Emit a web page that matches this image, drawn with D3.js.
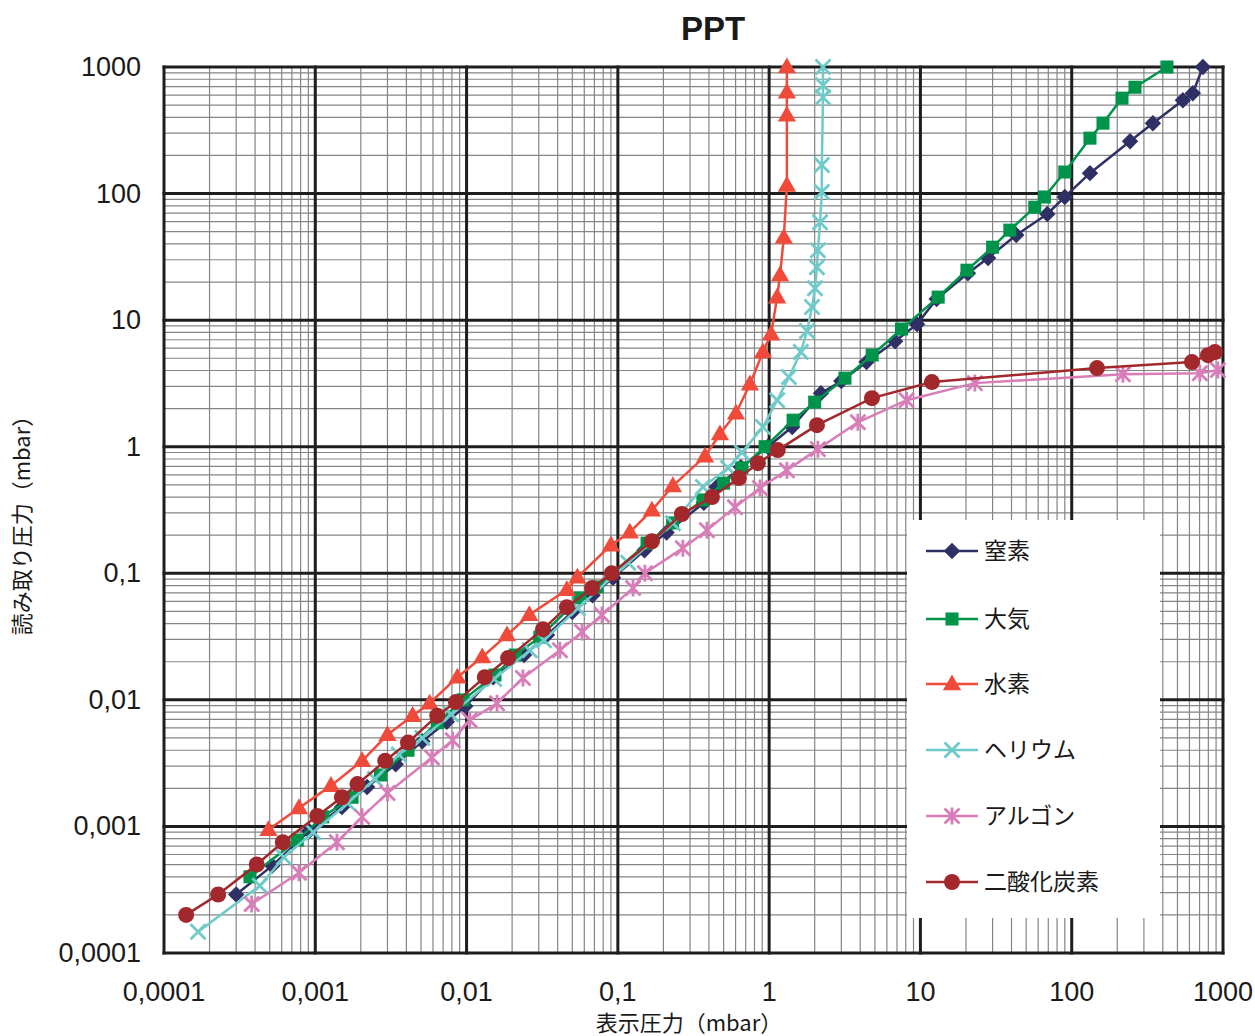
<!DOCTYPE html>
<html>
<head>
<meta charset="utf-8">
<script src="https://cdn.jsdelivr.net/npm/d3@7"></script>
<style>
  body { margin: 0; background: #fff; }
  svg { display: block; }
  .tick-label { font-family: "Liberation Sans", Arial, sans-serif; font-size: 27px; fill: #1a1a1a; }
  .cjk { font-family: "Noto Sans CJK JP", "Noto Sans", sans-serif; fill: #1a1a1a; }
</style>
</head>
<body>
<svg id="chart" width="1255" height="1036"></svg>
<script>
// data (x = 表示圧力, y = 読み取り圧力, both mbar)
var n2X = [0.0003,0.00052,0.00091,0.0015,0.0022,0.0034,0.0051,0.0074,0.0098,0.015,0.024,0.034,0.050,0.068,0.093,0.15,0.21,0.37,0.45,0.65,0.98,1.42,2.2,3.0,4.4,6.8,9.5,12.8,20.6,28,43,69,90,132,243,344,543,632,736];
var n2Y = [0.00029,0.00049,0.00092,0.00142,0.00205,0.0031,0.0047,0.0067,0.0089,0.0151,0.0226,0.0325,0.0495,0.067,0.092,0.152,0.21,0.36,0.48,0.69,1.0,1.43,2.65,3.3,4.66,6.8,9.3,14.7,23.5,31,47,69,94,145,259,360,547,621,1000];

var airX = [0.00037,0.00076,0.00112,0.00175,0.0027,0.0041,0.0064,0.0095,0.0154,0.021,0.0305,0.056,0.073,0.156,0.23,0.365,0.5,0.66,0.94,1.44,2.0,3.17,4.8,7.5,13.1,20.3,30,39,57,66,90,132,161,215,262,426];
var airY = [0.0004,0.00078,0.00119,0.0017,0.00255,0.004,0.0066,0.01,0.0157,0.0226,0.0313,0.064,0.078,0.173,0.25,0.38,0.515,0.68,1.0,1.62,2.25,3.48,5.3,8.5,15.2,24.8,37.7,51.4,78,94,148,274,360,567,692,1000];

var h2X = [0.00049,0.00078,0.00127,0.00204,0.0030,0.0044,0.0057,0.0087,0.0127,0.0185,0.026,0.046,0.054,0.090,0.120,0.168,0.231,0.377,0.473,0.604,0.746,0.91,1.03,1.13,1.18,1.25,1.31,1.31,1.31,1.31];
var h2Y = [0.00094,0.0014,0.0021,0.0033,0.0053,0.0075,0.0094,0.0151,0.0218,0.0325,0.047,0.074,0.093,0.167,0.211,0.315,0.49,0.84,1.26,1.84,3.12,5.6,7.75,15.2,22.7,45,116,416,632,1000];

var heX = [0.000168,0.00043,0.00062,0.00097,0.00164,0.00248,0.00357,0.0051,0.0079,0.0152,0.0262,0.0325,0.0545,0.117,0.231,0.365,0.535,0.66,0.91,1.13,1.35,1.62,1.78,1.92,2.01,2.07,2.10,2.17,2.23,2.23,2.27,2.27,2.27];
var heY = [0.000147,0.00034,0.00057,0.0009,0.00153,0.00237,0.0037,0.005,0.0077,0.0146,0.0247,0.0296,0.053,0.121,0.249,0.48,0.68,0.9,1.43,2.33,3.55,5.6,8.2,12.7,17.9,26.2,35.7,59.4,103,168,577,718,1000];

var arX = [0.00038,0.00078,0.00139,0.00204,0.0030,0.0059,0.0081,0.0105,0.0159,0.0236,0.0414,0.058,0.0785,0.126,0.151,0.269,0.388,0.594,0.87,1.31,2.10,3.86,8.1,22.9,218,703,925];
var arY = [0.000244,0.00043,0.00075,0.00119,0.00184,0.0035,0.0048,0.0069,0.0094,0.0149,0.0247,0.0344,0.0468,0.0764,0.1,0.158,0.219,0.333,0.471,0.653,0.957,1.56,2.33,3.18,3.74,3.81,4.03];

var co2X = [0.00014,0.000228,0.00041,0.00061,0.00103,0.0015,0.0019,0.0029,0.0041,0.0064,0.0085,0.0132,0.0188,0.032,0.046,0.0675,0.091,0.168,0.265,0.419,0.631,0.843,1.14,2.07,4.78,11.9,147,623,795,884];
var co2Y = [0.0002,0.00029,0.0005,0.00075,0.00121,0.0017,0.00216,0.0033,0.0046,0.0075,0.0096,0.0151,0.0214,0.0362,0.054,0.0764,0.1,0.179,0.294,0.4,0.565,0.741,0.94,1.48,2.42,3.24,4.18,4.66,5.29,5.59];

var seriesNames = ['窒素','大気','水素','ヘリウム','アルゴン','二酸化炭素'];
var seriesColors = ['#2e3066','#00944a','#f04b3a','#6fcaca','#d97db8','#a3282c'];
var seriesMarkers = ['diamond','square','triangle','x','star','circle'];
var seriesX = [n2X, airX, h2X, heX, arX, co2X];
var seriesY = [n2Y, airY, h2Y, heY, arY, co2Y];

var tickVals = [0.0001,0.001,0.01,0.1,1,10,100,1000];
var tickText = ['0,0001','0,001','0,01','0,1','1','10','100','1000'];

var svg = d3.select('#chart');

var x = d3.scaleLog().domain([0.0001, 1000]).range([164, 1223]);
var y = d3.scaleLog().domain([0.0001, 1000]).range([953, 67]);

// minor grid
var minor = [];
for (var k = -4; k < 3; k++) {
  for (var m = 2; m < 10; m++) minor.push(m * Math.pow(10, k));
}
var grid = svg.append('g').attr('class','grid');
grid.selectAll('.vminor').data(minor).enter().append('line')
  .attr('x1', function(d){ return x(d); }).attr('x2', function(d){ return x(d); })
  .attr('y1', y(0.0001)).attr('y2', y(1000))
  .style('stroke','#858585').style('stroke-width',1.2);
grid.selectAll('.hminor').data(minor).enter().append('line')
  .attr('y1', function(d){ return y(d); }).attr('y2', function(d){ return y(d); })
  .attr('x1', x(0.0001)).attr('x2', x(1000))
  .style('stroke','#858585').style('stroke-width',1.2);

// major grid
grid.selectAll('.vmajor').data(tickVals).enter().append('line')
  .attr('x1', function(d){ return x(d); }).attr('x2', function(d){ return x(d); })
  .attr('y1', y(0.0001) + 1.5).attr('y2', y(1000) - 1.5)
  .style('stroke','#1e1e1e').style('stroke-width',3);
grid.selectAll('.hmajor').data(tickVals).enter().append('line')
  .attr('y1', function(d){ return y(d); }).attr('y2', function(d){ return y(d); })
  .attr('x1', x(0.0001) - 1.5).attr('x2', x(1000) + 1.5)
  .style('stroke','#1e1e1e').style('stroke-width',3);

// legend box sits over the grid
svg.append('rect')
  .attr('x', 907).attr('y', 520).attr('width', 253).attr('height', 398)
  .style('fill','#fff');

// tick labels
svg.selectAll('.xlab').data(tickVals).enter().append('text')
  .attr('class','tick-label')
  .attr('x', function(d){ return x(d); })
  .attr('y', 1001)
  .attr('text-anchor','middle')
  .text(function(d,i){ return tickText[i]; });
svg.selectAll('.ylab').data(tickVals).enter().append('text')
  .attr('class','tick-label')
  .attr('x', 141)
  .attr('y', function(d){ return y(d) + 9; })
  .attr('text-anchor','end')
  .text(function(d,i){ return tickText[i]; });

// titles
svg.append('text')
  .attr('x', 713).attr('y', 40)
  .attr('text-anchor','middle')
  .style('font-family','"Liberation Sans", Arial, sans-serif')
  .style('font-size','33px').style('font-weight','bold').style('fill','#1a1a1a')
  .text('PPT');
svg.append('text')
  .attr('class','cjk')
  .attr('x', 689).attr('y', 1031)
  .attr('text-anchor','middle')
  .style('font-size','22px')
  .text('表示圧力（mbar）');
svg.append('text')
  .attr('class','cjk')
  .attr('transform','translate(30,520) rotate(-90)')
  .attr('text-anchor','middle')
  .style('font-size','22px')
  .text('読み取り圧力（mbar）');

function drawMarker(g, type, color) {
  if (type == 'diamond') {
    g.append('path').attr('d', d3.symbol().type(d3.symbolSquare).size(135)())
      .attr('transform','rotate(45)').style('fill', color);
  } else if (type == 'square') {
    g.append('path').attr('d', d3.symbol().type(d3.symbolSquare).size(170)()).style('fill', color);
  } else if (type == 'triangle') {
    g.append('path').attr('d', d3.symbol().type(d3.symbolTriangle).size(145)())
      .attr('transform','translate(0,1)').style('fill', color);
  } else if (type == 'circle') {
    g.append('circle').attr('r', 8).style('fill', color);
  } else {
    var s = 7.5;
    var p = 'M' + (-s) + ',' + (-s) + 'L' + s + ',' + s + 'M' + (-s) + ',' + s + 'L' + s + ',' + (-s);
    if (type == 'star') p += 'M0,' + (-s - 1) + 'L0,' + (s + 1);
    g.append('path').attr('d', p)
      .style('fill','none').style('stroke', color).style('stroke-width', 2.8);
  }
}

var line = d3.line()
  .x(function(d){ return x(d[0]); })
  .y(function(d){ return y(d[1]); });

seriesNames.forEach(function(name, i) {
  var pts = seriesX[i].map(function(v, j){ return [v, seriesY[i][j]]; });
  var g = svg.append('g').attr('class','series');
  g.append('path').datum(pts)
    .attr('d', line)
    .style('fill','none')
    .style('stroke', seriesColors[i])
    .style('stroke-width', 2.5);
  g.selectAll('.pt').data(pts).enter().append('g')
    .attr('transform', function(d){ return 'translate(' + x(d[0]) + ',' + y(d[1]) + ')'; })
    .each(function(){ drawMarker(d3.select(this), seriesMarkers[i], seriesColors[i]); });
});

// legend
var legY = [551, 619, 684, 750, 816, 882];
seriesNames.forEach(function(name, i) {
  var lg = svg.append('g').attr('transform','translate(952,' + legY[i] + ')');
  lg.append('line').attr('x1', -26).attr('x2', 26)
    .style('stroke', seriesColors[i]).style('stroke-width', 2.5);
  drawMarker(lg, seriesMarkers[i], seriesColors[i]);
  lg.append('text')
    .attr('class','cjk')
    .attr('x', 32).attr('y', 8)
    .style('font-size','23px')
    .text(name);
});
</script>
</body>
</html>
